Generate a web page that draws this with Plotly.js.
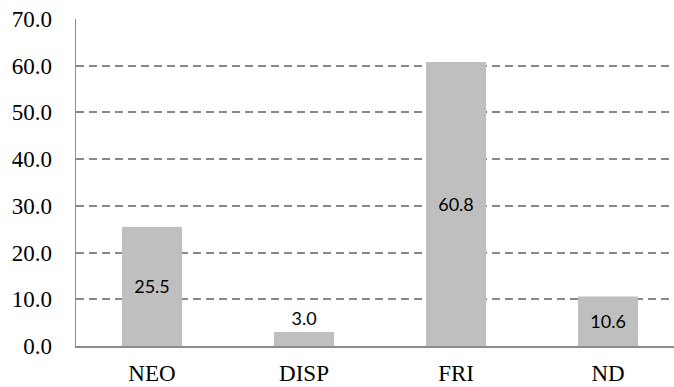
<!DOCTYPE html>
<html>
<head>
<meta charset="utf-8">
<script src="https://cdn.plot.ly/plotly-3.0.1.min.js"></script>
<style>
  html, body { margin: 0; padding: 0; background: #fff; }
  #chart { width: 674px; height: 387px; }
</style>
</head>
<body>
<div id="chart"></div>
<script>
// Category labels and the percentage shown for each bar
const categories = ['NEO', 'DISP', 'FRI', 'ND'];
const values = [25.5, 3.0, 60.8, 10.6];
const valueLabels = ['25.5', '3.0', '60.8', '10.6'];
const labelPositions = ['inside', 'outside', 'inside', 'inside'];

const axisFont = { family: 'Liberation Serif', size: 23, color: '#000' };

const trace = {
  type: 'bar',
  x: categories,
  y: values,
  text: valueLabels,
  textposition: labelPositions,
  insidetextanchor: 'middle',
  constraintext: 'none',
  cliponaxis: false,
  textfont: { family: 'Lato', size: 18, color: '#000' },
  outsidetextfont: { family: 'Lato', size: 18, color: '#000' },
  insidetextfont: { family: 'Lato', size: 18, color: '#000' },
  marker: { color: '#bfbfbf', line: { width: 0 } },
  width: 0.395,
  hoverinfo: 'none'
};

const layout = {
  width: 674,
  height: 387,
  margin: { l: 76, r: 0, t: 19, b: 41 },
  paper_bgcolor: '#fff',
  plot_bgcolor: '#fff',
  showlegend: false,
  font: axisFont,
  xaxis: {
    type: 'category',
    range: [-0.5, 3.434],
    showgrid: false,
    showline: true,
    linecolor: '#8c8c8c',
    linewidth: 1.5,
    ticks: '',
    ticklabelstandoff: 6,
    tickfont: axisFont,
    zeroline: false,
    fixedrange: true
  },
  yaxis: {
    range: [0, 70],
    tickvals: [0, 10, 20, 30, 40, 50, 60, 70],
    tickformat: '.1f',
    showgrid: true,
    gridcolor: '#888888',
    gridwidth: 2,
    griddash: '8px,5px',
    showline: true,
    linecolor: '#8c8c8c',
    linewidth: 1.5,
    ticks: '',
    ticklabelstandoff: 18,
    tickfont: axisFont,
    zeroline: false,
    fixedrange: true
  }
};

Plotly.newPlot('chart', [trace], layout, { displayModeBar: false, staticPlot: true });
</script>
</body>
</html>
